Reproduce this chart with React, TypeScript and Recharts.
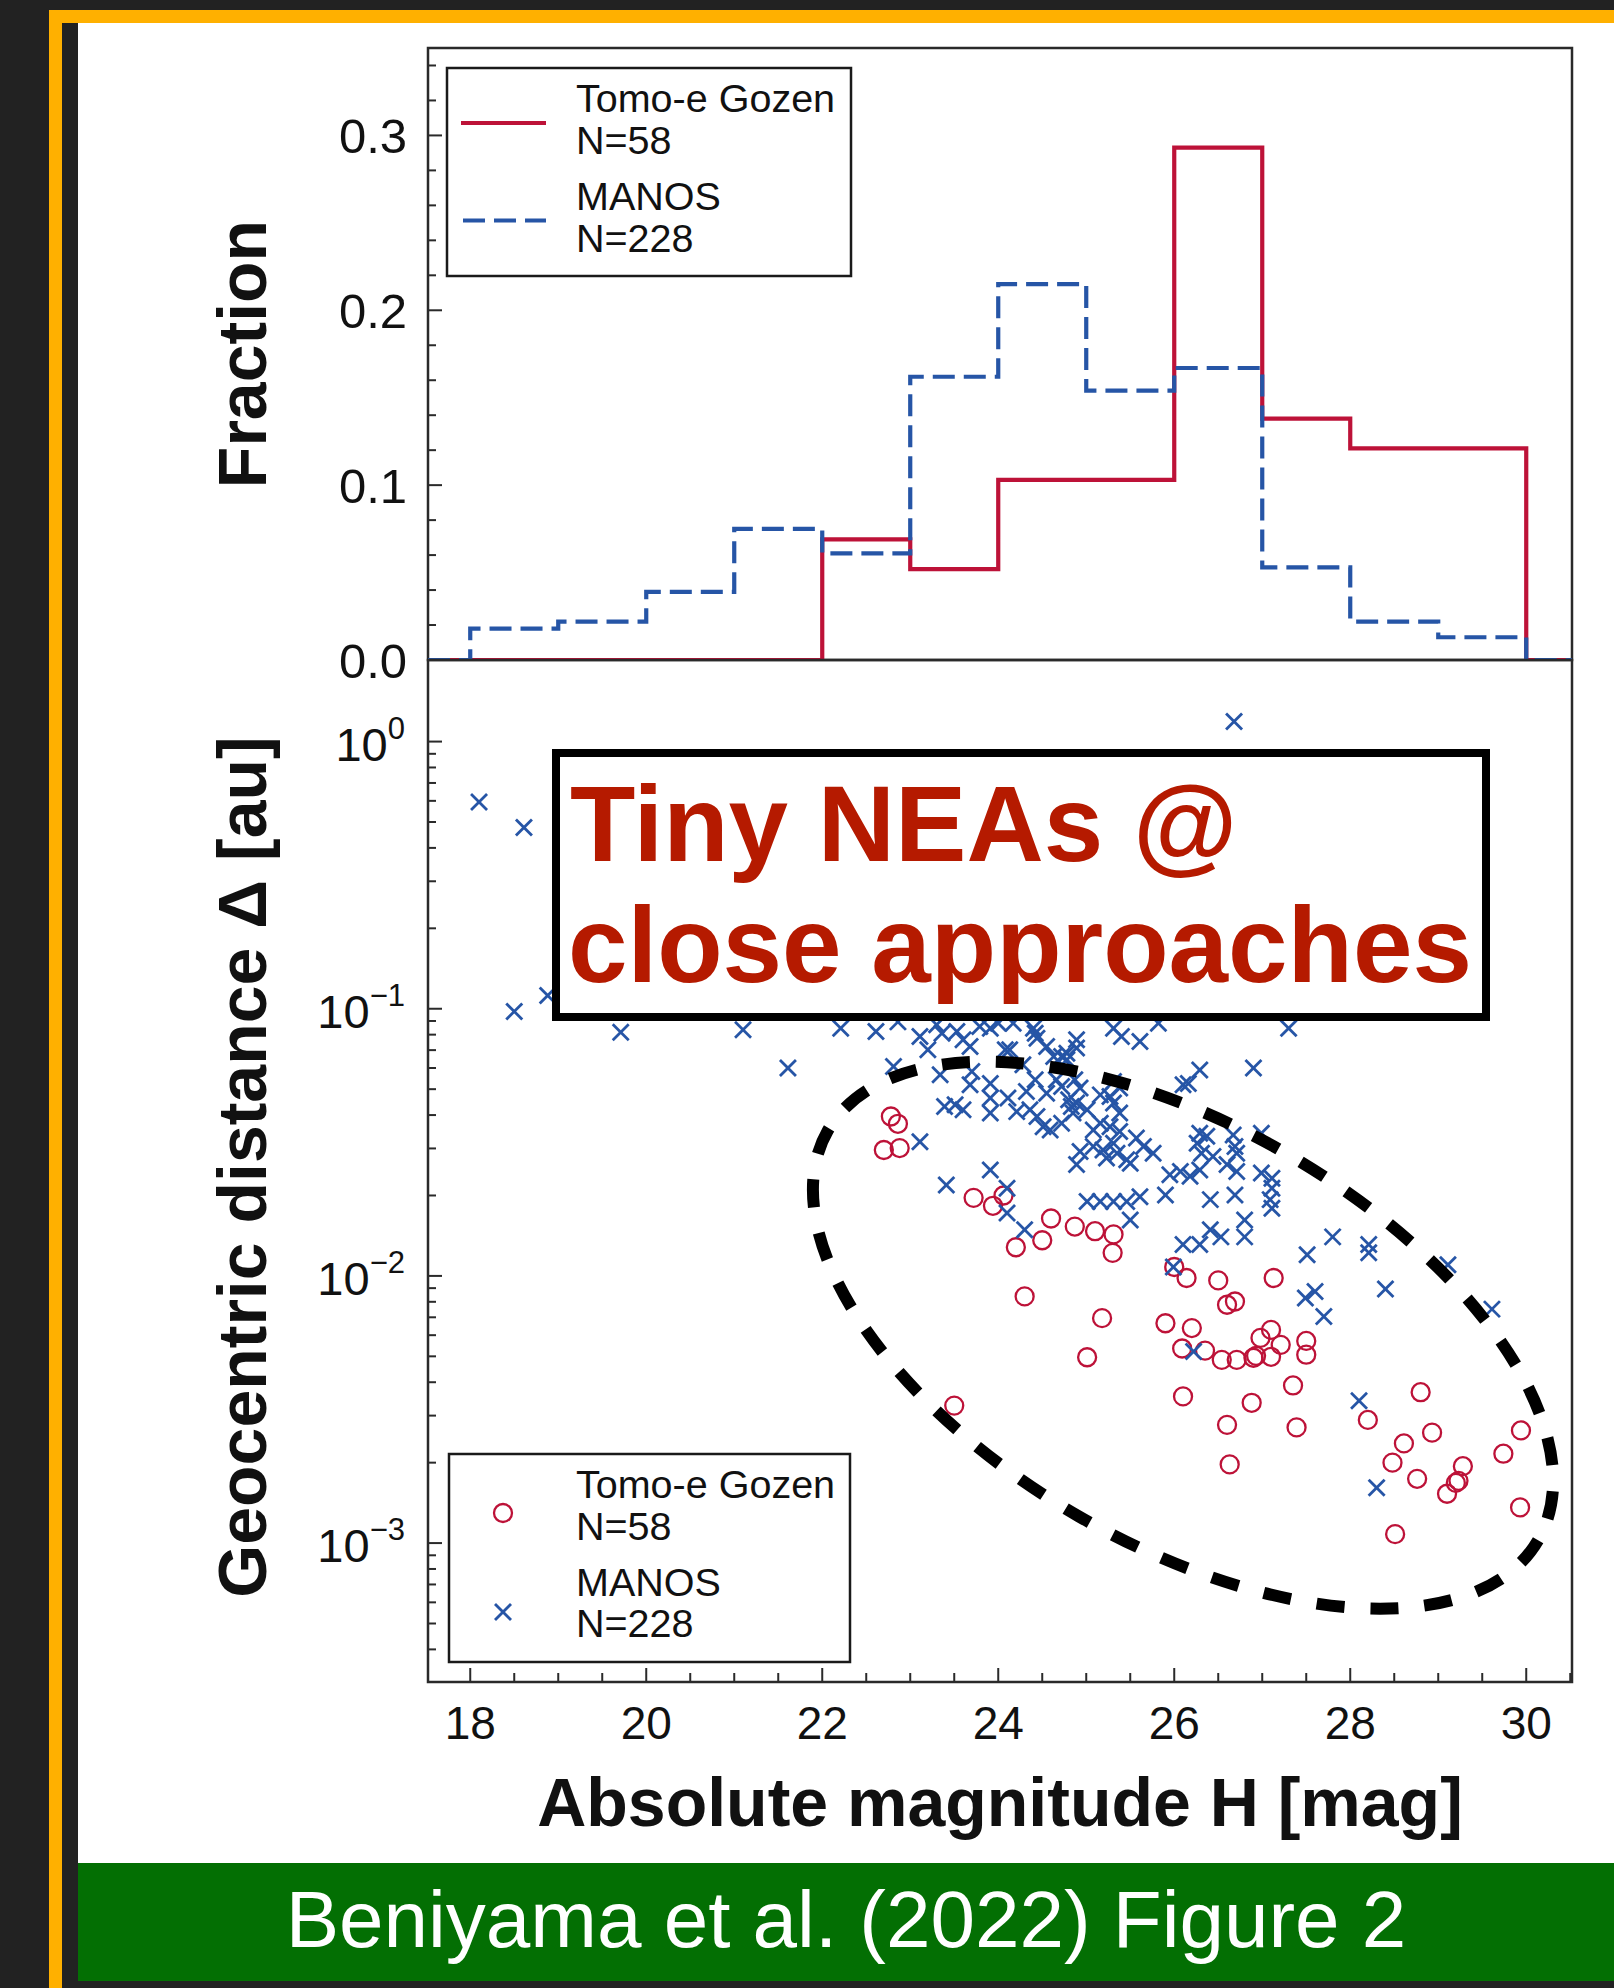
import React from "react";
import {
  Line,
  LineChart,
  ReferenceArea,
  ReferenceDot,
  Scatter,
  ScatterChart,
  XAxis,
  YAxis
} from "recharts";

const FONT = '"Liberation Sans", Arial, Helvetica, sans-serif';
const RED = "#bd1238";
const BLUE = "#2655a6";
const FRAME = "#2a2a2a";
const INK = "#111111";

// histogram (Fraction per 1-mag bin, left edges)
const binEdges = [18, 19, 20, 21, 22, 23, 24, 25, 26, 27, 28, 29, 30];
const tomoeFraction = [0, 0, 0, 0, 0.069, 0.052, 0.103, 0.103, 0.293, 0.138, 0.121, 0.121];
const manosFraction = [0.018, 0.022, 0.039, 0.075, 0.061, 0.162, 0.215, 0.154, 0.167, 0.053, 0.022, 0.013];

// scatter: [H mag, geocentric distance au]
const tomoePoints: [number, number][] = [
  [22.7, 0.0296], [22.78, 0.0395], [22.86, 0.0371], [22.88, 0.0301],
  [23.5, 0.00327], [23.72, 0.0196], [23.94, 0.0183],
  [24.06, 0.02], [24.2, 0.0128], [24.3, 0.00838], [24.5, 0.0136], [24.6, 0.0164], [24.87, 0.0153],
  [25.01, 0.00496], [25.1, 0.0147], [25.18, 0.00695], [25.3, 0.0122], [25.31, 0.0143], [25.9, 0.00665],
  [26.0, 0.0108], [26.09, 0.00535], [26.1, 0.00354], [26.14, 0.00982], [26.2, 0.00638], [26.35, 0.00525],
  [26.5, 0.00962], [26.54, 0.00485], [26.6, 0.0078], [26.6, 0.00277], [26.63, 0.00197], [26.69, 0.00802],
  [26.71, 0.00485], [26.88, 0.00335], [26.9, 0.00494], [26.93, 0.00502], [26.98, 0.00586],
  [27.1, 0.00628], [27.1, 0.00498], [27.13, 0.00982], [27.21, 0.00552], [27.35, 0.00389], [27.39, 0.00271],
  [27.5, 0.00571], [27.5, 0.00507],
  [28.2, 0.00289], [28.48, 0.002], [28.51, 0.00108], [28.61, 0.00236], [28.76, 0.00174], [28.8, 0.00367], [28.93, 0.00259],
  [29.1, 0.00153], [29.2, 0.00168], [29.23, 0.00171], [29.28, 0.00194], [29.74, 0.00216], [29.93, 0.00136], [29.94, 0.00264]
];

const manosPoints: [number, number][] = [
  [18.1, 0.594], [18.61, 0.477], [18.5, 0.0977], [18.88, 0.112], [19.71, 0.0816], [21.1, 0.0834],
  [21.61, 0.06], [22.21, 0.0846], [22.61, 0.0822], [22.81, 0.0608], [22.86, 0.0893], [26.68, 1.19],
  [27.3, 0.0846], [26.9, 0.06],
  [23.11, 0.0787], [23.3, 0.0871], [23.36, 0.081], [23.53, 0.0822], [23.6, 0.0765], [23.79, 0.0858],
  [23.91, 0.0846], [24.0, 0.0883], [24.17, 0.0883], [24.4, 0.0846], [24.42, 0.081], [24.44, 0.0776],
  [24.55, 0.0722], [24.78, 0.0682], [24.89, 0.0765], [25.31, 0.0846], [25.4, 0.0787], [25.61, 0.0754],
  [25.82, 0.0883],
  [23.2, 0.0702], [23.68, 0.0722], [24.08, 0.0702], [24.13, 0.0702], [24.28, 0.0617], [24.63, 0.0662],
  [24.72, 0.0662], [24.78, 0.0644], [24.89, 0.0713], [23.34, 0.0566], [26.29, 0.059], [26.1, 0.0519],
  [26.16, 0.0525],
  [23.7, 0.0582], [23.68, 0.0519], [23.91, 0.0525], [23.91, 0.0463], [24.11, 0.0463], [24.32, 0.049],
  [24.42, 0.0542], [24.55, 0.0483], [24.66, 0.0542], [24.72, 0.0512], [24.87, 0.0542], [24.93, 0.0505],
  [25.16, 0.0476], [25.27, 0.0469], [25.31, 0.0534], [25.38, 0.0505],
  [23.39, 0.0431], [23.51, 0.0437], [23.6, 0.0419], [23.91, 0.0407], [24.21, 0.0412], [24.36, 0.0419],
  [24.44, 0.0395], [24.8, 0.0456], [24.83, 0.0431], [24.85, 0.0407], [24.89, 0.0444], [25.01, 0.0419],
  [25.31, 0.0444], [25.38, 0.0407],
  [24.51, 0.0362], [24.59, 0.0352], [24.72, 0.0373], [25.08, 0.0352], [25.16, 0.0373], [25.27, 0.0362],
  [25.38, 0.0347],
  [23.11, 0.0318], [24.93, 0.0292], [25.08, 0.0305], [25.19, 0.0296], [25.31, 0.0314], [25.35, 0.0288],
  [25.46, 0.0272], [25.57, 0.0328], [25.65, 0.0305], [25.5, 0.0264], [25.76, 0.0288],
  [26.29, 0.0342], [26.26, 0.0314], [26.37, 0.0333], [26.31, 0.0288], [26.44, 0.028],
  [23.91, 0.0249], [24.89, 0.0261], [25.23, 0.0276], [23.41, 0.0219], [24.1, 0.0213], [25.95, 0.0239],
  [26.07, 0.0246], [26.18, 0.0236], [26.29, 0.0249],
  [25.01, 0.019], [25.16, 0.019], [25.31, 0.019], [25.46, 0.019], [25.61, 0.0198], [25.9, 0.0201],
  [26.41, 0.0193],
  [24.1, 0.0172], [24.3, 0.0149], [25.5, 0.0162], [26.41, 0.0149], [26.53, 0.014], [26.1, 0.0131],
  [26.29, 0.0131], [25.99, 0.0108], [26.22, 0.00521],
  [26.99, 0.0342], [26.67, 0.0337], [26.69, 0.0305], [26.71, 0.0288], [26.6, 0.0261], [26.71, 0.0246],
  [26.99, 0.0243], [27.11, 0.0232], [27.11, 0.0213], [27.09, 0.0193], [27.11, 0.0179], [26.69, 0.0201],
  [26.8, 0.0162], [26.8, 0.014], [27.8, 0.014], [27.51, 0.012], [28.21, 0.0131], [28.21, 0.0122],
  [28.4, 0.00893], [29.11, 0.011], [29.61, 0.00751], [27.6, 0.00875], [27.49, 0.00826], [27.7, 0.00705],
  [28.1, 0.00341], [28.3, 0.00161]
];

const H_DOMAIN: [number, number] = [17.52, 30.52];
const FRACTION_DOMAIN: [number, number] = [0, 0.35];
const DIST_DOMAIN: [number, number] = [0.000302, 2.02];

const fractionTicks = [0, 0.02, 0.04, 0.06, 0.08, 0.1, 0.12, 0.14, 0.16, 0.18, 0.2, 0.22, 0.24, 0.26, 0.28, 0.3, 0.32, 0.34];
const fractionLabels = [0, 0.1, 0.2, 0.3];
const hTicks = [18, 18.5, 19, 19.5, 20, 20.5, 21, 21.5, 22, 22.5, 23, 23.5, 24, 24.5, 25, 25.5, 26, 26.5, 27, 27.5, 28, 28.5, 29, 29.5, 30, 30.5];
const hLabels = [18, 20, 22, 24, 26, 28, 30];
const distTicks = [
  0.0004, 0.0005, 0.0006, 0.0007, 0.0008, 0.0009,
  0.001, 0.002, 0.003, 0.004, 0.005, 0.006, 0.007, 0.008, 0.009,
  0.01, 0.02, 0.03, 0.04, 0.05, 0.06, 0.07, 0.08, 0.09,
  0.1, 0.2, 0.3, 0.4, 0.5, 0.6, 0.7, 0.8, 0.9, 1
];
const distLabels = [0.001, 0.01, 0.1, 1];

// hand-drawn highlight ellipse (centre in data units, size in px)
const ELLIPSE = { h: 26.1, d: 0.006, rx: 410, ry: 209, angle: 30 };

const histRows = [
  { h: H_DOMAIN[0], tomoe: 0, manos: 0 },
  ...binEdges.map((h, i) => ({ h, tomoe: tomoeFraction[i] ?? 0, manos: manosFraction[i] ?? 0 })),
  { h: H_DOMAIN[1], tomoe: 0, manos: 0 }
];
const tomoeRows = tomoePoints.map(([h, d]) => ({ h, d }));
const manosRows = manosPoints.map(([h, d]) => ({ h, d }));

function FractionTick({ x, y, payload }: any) {
  const major = fractionLabels.includes(payload.value);
  return (
    <g>
      <line x1={x} x2={x + (major ? 14 : 8)} y1={y} y2={y} stroke={FRAME} strokeWidth={2} />
      {major && (
        <text x={x - 21} y={y + 18} textAnchor="end" fontSize={49} fill={INK} fontFamily={FONT}>
          {payload.value.toFixed(1)}
        </text>
      )}
    </g>
  );
}

function DistTick({ x, y, payload }: any) {
  const v = payload.value;
  const major = distLabels.includes(v);
  const exp = Math.round(Math.log10(v));
  return (
    <g>
      <line x1={x} x2={x + (major ? 14 : 8)} y1={y} y2={y} stroke={FRAME} strokeWidth={2} />
      {major && (
        <text x={x - 23} y={y + 19} textAnchor="end" fontSize={47} fill={INK} fontFamily={FONT}>
          10
          <tspan dy={-22} fontSize={31}>{exp === 0 ? "0" : "\u2212" + Math.abs(exp)}</tspan>
        </text>
      )}
    </g>
  );
}

function HTick({ x, y, payload }: any) {
  const major = hLabels.includes(payload.value);
  return (
    <g>
      <line x1={x} x2={x} y1={y} y2={y - (major ? 14 : 9)} stroke={FRAME} strokeWidth={2} />
      {major && (
        <text x={x} y={y + 57} textAnchor="middle" fontSize={46} fill={INK} fontFamily={FONT}>
          {payload.value}
        </text>
      )}
    </g>
  );
}

const CircleMark = (p: any) => (
  <circle cx={p.cx} cy={p.cy} r={9} fill="none" stroke={RED} strokeWidth={2.3} />
);

const CrossMark = (p: any) => (
  <g stroke={BLUE} strokeWidth={2.8}>
    <line x1={p.cx - 8} y1={p.cy - 8} x2={p.cx + 8} y2={p.cy + 8} />
    <line x1={p.cx - 8} y1={p.cy + 8} x2={p.cx + 8} y2={p.cy - 8} />
  </g>
);

const EllipseMark = (p: any) => (
  <ellipse
    cx={p.cx}
    cy={p.cy}
    rx={ELLIPSE.rx}
    ry={ELLIPSE.ry}
    transform={`rotate(${ELLIPSE.angle} ${p.cx} ${p.cy})`}
    fill="none"
    stroke="#000"
    strokeWidth={12}
    strokeDasharray="28 26"
  />
);

export default function App() {
  return (
    <div
      style={{
        position: "absolute",
        left: 0,
        top: 0,
        width: 1614,
        height: 1988,
        background: "#222222",
        overflow: "hidden",
        fontFamily: FONT
      }}
    >
      <div style={{ position: "absolute", left: 49, top: 10, width: 1565, height: 13, background: "#ffb000" }} />
      <div style={{ position: "absolute", left: 49, top: 10, width: 13, height: 1978, background: "#ffb000" }} />
      <div style={{ position: "absolute", left: 78, top: 23, width: 1536, height: 1840, background: "#ffffff" }} />
      <div style={{ position: "absolute", left: 78, top: 1863, width: 1536, height: 118, background: "#036f03" }} />

      <div style={{ position: "absolute", left: 0, top: 0 }}>
        <LineChart width={1614} height={700} data={histRows} margin={{ top: 48, right: 42, bottom: 40, left: 0 }}>
          <XAxis type="number" dataKey="h" domain={H_DOMAIN} allowDataOverflow hide />
          <YAxis
            type="number"
            domain={FRACTION_DOMAIN}
            ticks={fractionTicks}
            interval={0}
            width={428}
            axisLine={false}
            tickLine={false}
            tickSize={0}
            tickMargin={0}
            tick={(p: any) => <FractionTick {...p} />}
            allowDataOverflow
          />
          <ReferenceArea
            x1={H_DOMAIN[0]}
            x2={H_DOMAIN[1]}
            y1={FRACTION_DOMAIN[0]}
            y2={FRACTION_DOMAIN[1]}
            fill="none"
            stroke={FRAME}
            strokeWidth={2.5}
            ifOverflow="visible"
          />
          <Line
            dataKey="tomoe"
            type="stepAfter"
            stroke={RED}
            strokeWidth={4.2}
            dot={false}
            isAnimationActive={false}
          />
          <Line
            dataKey="manos"
            type="stepAfter"
            stroke={BLUE}
            strokeWidth={4.2}
            strokeDasharray="22 9"
            dot={false}
            isAnimationActive={false}
          />
        </LineChart>
      </div>

      <div style={{ position: "absolute", left: 0, top: 640 }}>
        <ScatterChart width={1614} height={1200} margin={{ top: 20, right: 42, bottom: 0, left: 0 }}>
          <XAxis
            type="number"
            dataKey="h"
            domain={H_DOMAIN}
            ticks={hTicks}
            interval={0}
            height={158}
            axisLine={false}
            tickLine={false}
            tickSize={0}
            tickMargin={0}
            tick={(p: any) => <HTick {...p} />}
            allowDataOverflow
          />
          <YAxis
            type="number"
            dataKey="d"
            scale="log"
            domain={DIST_DOMAIN}
            ticks={distTicks}
            interval={0}
            width={428}
            axisLine={false}
            tickLine={false}
            tickSize={0}
            tickMargin={0}
            tick={(p: any) => <DistTick {...p} />}
            allowDataOverflow
          />
          <ReferenceArea
            x1={H_DOMAIN[0]}
            x2={H_DOMAIN[1]}
            y1={DIST_DOMAIN[0]}
            y2={DIST_DOMAIN[1]}
            fill="none"
            stroke={FRAME}
            strokeWidth={2.5}
            ifOverflow="visible"
          />
          <Scatter data={tomoeRows} shape={CircleMark} isAnimationActive={false} />
          <Scatter data={manosRows} shape={CrossMark} isAnimationActive={false} />
          <ReferenceDot x={ELLIPSE.h} y={ELLIPSE.d} r={0} shape={EllipseMark} ifOverflow="visible" />
        </ScatterChart>
      </div>

      <svg
        width={1614}
        height={1988}
        style={{ position: "absolute", left: 0, top: 0, pointerEvents: "none" }}
        fontFamily={FONT}
      >
        {/* histogram legend */}
        <rect x={447} y={68} width={404} height={208} fill="#fff" stroke="#1a1a1a" strokeWidth={2.5} />
        <line x1={461} x2={546} y1={123} y2={123} stroke={RED} strokeWidth={4} />
        <line x1={463} x2={546} y1={220.5} y2={220.5} stroke={BLUE} strokeWidth={4} strokeDasharray="22 9" />
        <g fontSize={39.5} fill={INK}>
          <text x={576} y={112}>Tomo-e Gozen</text>
          <text x={576} y={154}>N=58</text>
          <text x={576} y={210}>MANOS</text>
          <text x={576} y={252}>N=228</text>
        </g>

        {/* scatter legend */}
        <rect x={449} y={1454} width={401} height={208} fill="#fff" stroke="#1a1a1a" strokeWidth={2.5} />
        <circle cx={503} cy={1513} r={9} fill="none" stroke={RED} strokeWidth={2.3} />
        <g stroke={BLUE} strokeWidth={2.8}>
          <line x1={495} y1={1604} x2={511} y2={1620} />
          <line x1={495} y1={1620} x2={511} y2={1604} />
        </g>
        <g fontSize={39.5} fill={INK}>
          <text x={576} y={1498}>Tomo-e Gozen</text>
          <text x={576} y={1540}>N=58</text>
          <text x={576} y={1596}>MANOS</text>
          <text x={576} y={1637}>N=228</text>
        </g>

        {/* annotation box */}
        <rect x={556} y={753} width={930} height={264} fill="#fff" stroke="#000" strokeWidth={8} />
        <g fontSize={107} fontWeight="bold" fill="#b51a00">
          <text x={570} y={861}>Tiny NEAs @</text>
          <text x={568} y={982}>close approaches</text>
        </g>

        {/* axis titles */}
        <g fontSize={68} fontWeight="bold" fill={INK} textAnchor="middle">
          <text x={266} y={354} transform="rotate(-90 266 354)">Fraction</text>
          <text x={266} y={1167} transform="rotate(-90 266 1167)">Geocentric distance Δ [au]</text>
          <text x={1000} y={1826}>Absolute magnitude H [mag]</text>
        </g>

        <text x={846} y={1947} textAnchor="middle" fontSize={80} fill="#ffffff">
          Beniyama et al. (2022) Figure 2
        </text>
      </svg>
    </div>
  );
}
